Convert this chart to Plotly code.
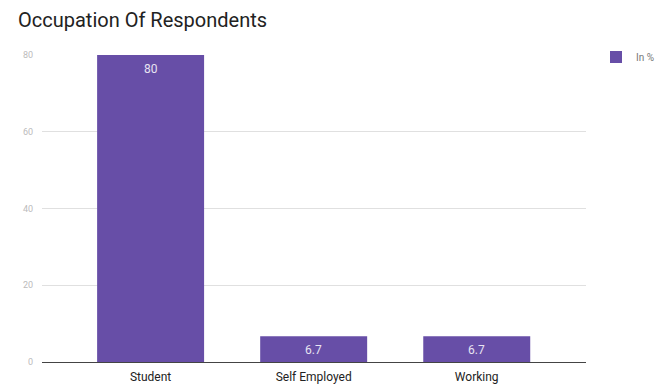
import plotly.graph_objects as go

categories = ["Student", "Self Employed", "Working"]
values = [80, 6.7, 6.7]
value_labels = ["80", "6.7", "6.7"]
series_name = "In %"
y_ticks = [0, 20, 40, 60, 80]

fig = go.Figure()
fig.add_trace(go.Bar(
    x=categories, y=values, name=series_name,
    marker=dict(color="#674ea7", line=dict(width=0)),
    width=0.656,
    showlegend=True,
))

for c, v, t in zip(categories, values, value_labels):
    fig.add_annotation(x=c, y=v, text=t, showarrow=False, yanchor="middle",
                       yshift=-14,
                       font=dict(family="Roboto", size=12, color="#e8e4f2"))

fig.update_layout(
    width=667, height=385,
    margin=dict(l=42, r=81, t=55, b=23, autoexpand=False),
    paper_bgcolor="white", plot_bgcolor="white",
    font=dict(family="Roboto", color="#222"),
    title=dict(text="Occupation Of Respondents", x=0.027, xanchor="left",
               y=0.948, yanchor="middle",
               font=dict(family="Roboto", size=20, color="#222")),
    showlegend=True,
    legend=dict(xanchor="left", yanchor="middle",
                xref="paper", yref="paper",
                font=dict(family="Roboto", size=10, color="#777"),
                itemwidth=30, bgcolor="rgba(0,0,0,0)"),
    xaxis=dict(range=[-0.666, 2.67], showgrid=False, showline=True,
               linecolor="#444", linewidth=1, ticks="", automargin=False,
               ticklabelstandoff=4,
               tickfont=dict(family="Roboto", size=12, color="#222"),
               fixedrange=True),
    yaxis=dict(range=[0, 80], tickvals=y_ticks, showgrid=True,
               gridcolor="#e0e0e0", zeroline=False, ticks="", automargin=False,
               tickfont=dict(family="Roboto", size=9, color="#bbbbbb"),
               ticklabelstandoff=8),
)
# legend position in paper fraction
fig.update_layout(legend=dict(x=(596 - 42) / (667 - 42 - 81),
                              y=(385 - 23 - 57) / (385 - 55 - 23)))

fig.write_html("out.html")
